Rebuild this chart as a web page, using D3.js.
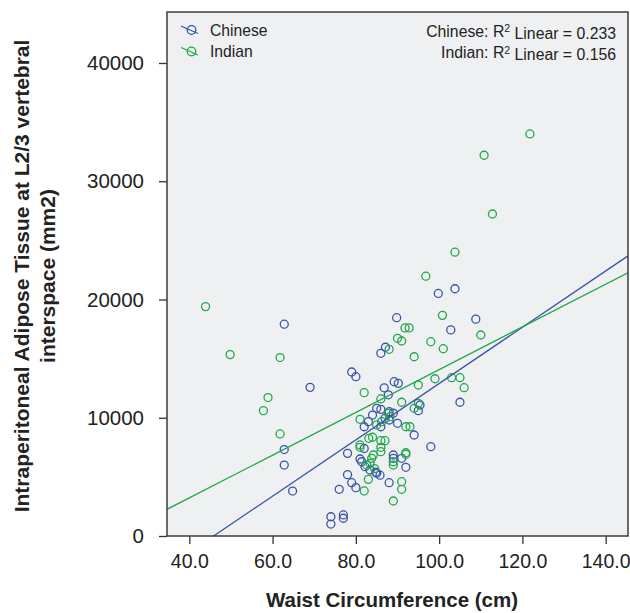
<!DOCTYPE html>
<html>
<head>
<meta charset="utf-8">
<script src="https://cdn.jsdelivr.net/npm/d3@7"></script>
<style>
  html, body { margin: 0; padding: 0; background: #ffffff; }
  svg { display: block; font-family: "Liberation Sans", Arial, Helvetica, sans-serif; }
</style>
</head>
<body>
<svg id="chart" width="630" height="613"></svg>
<script>
// ---- Data ----
const chineseWaist = [62.8, 89.8, 99.8, 103.8, 108.8, 102.8, 86.0, 87.1, 79.0, 80.0,
  69.0, 89.2, 90.2, 86.8, 87.8, 105.0, 95.0, 85.0, 86.0, 88.0,
  89.0, 84.0, 83.0, 82.0, 88.0, 87.0, 86.0, 90.0, 94.0, 98.0,
  62.8, 62.8, 78.0, 81.4, 82.2, 81.0, 85.0, 85.8, 89.0, 89.0,
  91.0, 92.0, 78.0, 79.0, 80.0, 76.0, 88.0, 64.8, 74.0, 74.0,
  77.0, 77.0, 82.0, 84.8, 83.4, 95.4];
const chineseIAT = [17910, 18460, 20510, 20910, 18340, 17430, 15450, 15960, 13870, 13470,
  12570, 13050, 12910, 12530, 11940, 11310, 10600, 10800, 10710, 10510,
  10380, 10230, 9670, 9240, 9810, 9950, 9240, 9530, 8540, 7550,
  7310, 6000, 6990, 6280, 5860, 6510, 5300, 5140, 6850, 6570,
  6570, 5810, 5190, 4510, 4090, 3950, 4510, 3800, 1630, 1010,
  1780, 1500, 7400, 5400, 5580, 11080];

const indianWaist = [121.8, 110.8, 112.8, 103.8, 96.8, 43.9, 100.8, 91.8, 92.8, 90.0,
  91.0, 110.0, 49.8, 61.8, 88.0, 98.0, 101.0, 94.0, 58.9, 57.8,
  61.8, 82.0, 95.0, 99.0, 103.0, 105.0, 106.0, 86.0, 91.0, 95.0,
  94.0, 87.8, 88.2, 86.2, 85.0, 81.0, 92.0, 93.0, 84.0, 83.1,
  86.0, 87.0, 81.0, 81.0, 86.0, 86.0, 92.0, 92.0, 83.8, 84.2,
  83.4, 82.6, 89.0, 89.0, 83.0, 91.0, 91.0, 82.0, 89.0, 84.5];
const indianIAT = [34000, 32200, 27230, 24000, 21970, 19400, 18660, 17600, 17600, 16720,
  16490, 17000, 15340, 15090, 15790, 16430, 15840, 15160, 11710, 10600,
  8630, 12120, 12770, 13300, 13390, 13390, 12540, 11590, 11310, 11220,
  10800, 10380, 10090, 9670, 9390, 9870, 9240, 9240, 8350, 8260,
  8060, 8060, 7700, 7500, 7500, 7130, 7040, 6910, 6570, 6850,
  6150, 6000, 6280, 6000, 4790, 4590, 3950, 3810, 2960, 5700];

// Linear fit lines and reported R²
const groups = ["Chinese", "Indian"];
const fitSlope = [238.0, 180.7];
const fitIntercept = [-10908, -4002];
const r2Values = ["0.233", "0.156"];

const xTicks = [40, 60, 80, 100, 120, 140];
const yTicks = [0, 10000, 20000, 30000, 40000];
const xDomain = [34.64, 145.36];
const yDomain = [0, 44313];

const colors = ["#3a55a7", "#1ea84b"];

// ---- Layout ----
const svg = d3.select("#chart");
const L = 167, R = 628, T = 12, B = 536;

const x = d3.scaleLinear().domain(xDomain).range([L, R]);
const y = d3.scaleLinear().domain(yDomain).range([B, T]);

// plot background
svg.append("rect")
  .attr("x", L).attr("y", T).attr("width", R - L).attr("height", B - T)
  .attr("fill", "#eff0f2");

svg.append("defs").append("clipPath").attr("id", "clip")
  .append("rect").attr("x", L).attr("y", T).attr("width", R - L).attr("height", B - T);

// axes
const axisColor = "#333";
const xAxis = svg.append("g").attr("transform", `translate(0,${B})`)
  .call(d3.axisBottom(x).tickValues(xTicks).tickFormat(d3.format(".1f")).tickSize(8).tickPadding(10).tickSizeOuter(0));
const yAxis = svg.append("g").attr("transform", `translate(${L},0)`)
  .call(d3.axisLeft(y).tickValues(yTicks).tickFormat(d3.format("d")).tickSize(8).tickPadding(15).tickSizeOuter(0));
[xAxis, yAxis].forEach(g => {
  g.select(".domain").remove();
  g.selectAll(".tick line").attr("stroke", axisColor).attr("stroke-width", 1.3);
  g.selectAll(".tick text").attr("fill", "#222")
    .style("font-family", "'Liberation Sans', Arial, Helvetica, sans-serif");
});
yAxis.selectAll(".tick text").style("font-size", "20.5px");
xAxis.selectAll(".tick text").style("font-size", "19.5px").attr("dy", "0.72em");

// points
const plot = svg.append("g").attr("clip-path", "url(#clip)");
const seriesData = [
  chineseWaist.map((w, i) => ({ w, v: chineseIAT[i] })),
  indianWaist.map((w, i) => ({ w, v: indianIAT[i] }))
];
seriesData.forEach((pts, gi) => {
  plot.append("g").selectAll("circle").data(pts).join("circle")
    .attr("cx", d => x(d.w)).attr("cy", d => y(d.v)).attr("r", 4)
    .attr("fill", "none").attr("stroke", colors[gi]).attr("stroke-width", 1.3);
});

// fit lines
groups.forEach((g, gi) => {
  const xs = xDomain;
  plot.append("line")
    .attr("x1", x(xs[0])).attr("y1", y(fitIntercept[gi] + fitSlope[gi] * xs[0]))
    .attr("x2", x(xs[1])).attr("y2", y(fitIntercept[gi] + fitSlope[gi] * xs[1]))
    .attr("stroke", colors[gi]).attr("stroke-width", 1.3);
});

// frame
svg.append("rect")
  .attr("x", L).attr("y", T).attr("width", R - L).attr("height", B - T)
  .attr("fill", "none").attr("stroke", "#3c3c3c").attr("stroke-width", 1.5);

// legend
const legY = [30, 51.5];
groups.forEach((g, gi) => {
  const lg = svg.append("g");
  lg.append("line").attr("x1", 181).attr("y1", legY[gi] - 4).attr("x2", 198).attr("y2", legY[gi] + 3.5)
    .attr("stroke", colors[gi]).attr("stroke-width", 1.3);
  lg.append("circle").attr("cx", 191.5).attr("cy", legY[gi]).attr("r", 4.3)
    .attr("fill", "none").attr("stroke", colors[gi]).attr("stroke-width", 1.3);
  lg.append("text").attr("x", 210).attr("y", legY[gi]).attr("dy", "0.36em")
    .style("font-size", "15.7px").attr("fill", "#222").text(g);

  const t = svg.append("text").attr("x", 616).attr("y", legY[gi] + 1).attr("dy", "0.36em")
    .attr("text-anchor", "end").style("font-size", "15.8px").attr("fill", "#222");
  t.append("tspan").text(`${g}: R`);
  t.append("tspan").attr("dy", "-0.42em").style("font-size", "10.5px").text("2");
  t.append("tspan").attr("dy", "0.42em").text(` Linear = ${r2Values[gi]}`);
});

// axis titles
svg.append("text").attr("x", 392).attr("y", 607).attr("text-anchor", "middle")
  .style("font-size", "20.5px").style("font-weight", "bold").attr("fill", "#222")
  .text("Waist Circumference (cm)");

const yTitle = svg.append("g").attr("transform", "translate(0,276) rotate(-90)");
yTitle.append("text").attr("x", 0).attr("y", 28.5).attr("text-anchor", "middle")
  .style("font-size", "21px").style("font-weight", "bold").attr("fill", "#222")
  .text("Intraperitoneal Adipose Tissue at L2/3 vertebral");
yTitle.append("text").attr("x", 0).attr("y", 55).attr("text-anchor", "middle")
  .style("font-size", "21px").style("font-weight", "bold").attr("fill", "#222")
  .text("interspace (mm2)");
</script>
</body>
</html>
